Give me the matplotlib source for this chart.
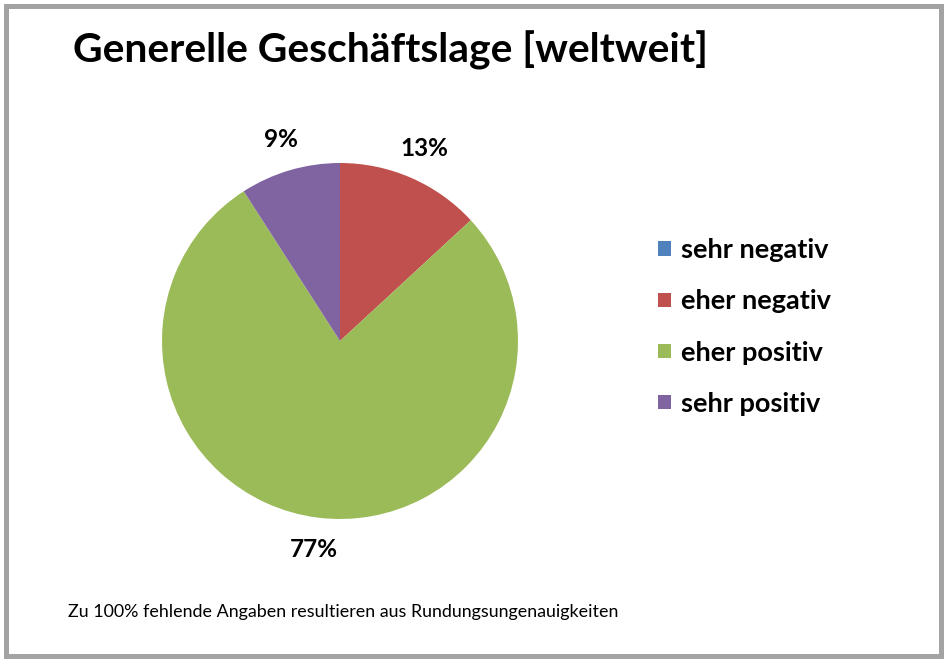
import matplotlib.pyplot as plt
from matplotlib.patches import Rectangle, Patch

# data
categories = ['sehr negativ', 'eher negativ', 'eher positiv', 'sehr positiv']
shares = [0, 13, 77, 9]
colors = ['#4F81BD', '#C0504D', '#9BBB59', '#8064A2']

title = 'Generelle Geschäftslage [weltweit]'
note = 'Zu 100% fehlende Angaben resultieren aus Rundungsungenauigkeiten'

W, H = 947, 662
fig = plt.figure(figsize=(W / 100, H / 100), dpi=100)
fig.patch.set_facecolor('white')

# grey frame around the chart
fig.add_artist(Rectangle((5.5 / W, 6 / H), 935 / W, 650 / H, transform=fig.transFigure,
                         fill=False, edgecolor='#a3a3a3', linewidth=3.6))

fig.text(73 / W, 1 - 62 / H, title, fontsize=29.4, fontweight='bold',
         family='Lato', ha='left', va='baseline', color='black')

fig.text(68 / W, 1 - 617 / H, note, fontsize=12.9, family='Lato',
         ha='left', va='baseline', color='black')

# pie, centre about (340, 341) px, radius about 178 px
ax = fig.add_axes([162 / W, 1 - 519 / H, 356 / W, 356 / H])
total = sum(shares)


def fmt(pct):
    v = round(pct * total / 100)
    return '' if v == 0 else '%d%%' % v


wedges, texts, autotexts = ax.pie(shares, colors=colors, startangle=90, counterclock=False,
                                  autopct=fmt, pctdistance=1.18,
                                  wedgeprops=dict(linewidth=0),
                                  textprops=dict(fontsize=17.5, fontweight='bold', family='Lato'))
ax.set_xlim(-1, 1)
ax.set_ylim(-1, 1)
ax.set_aspect('equal')

handles = [Patch(facecolor=c, edgecolor='none') for c in colors]
leg = fig.legend(handles, categories, loc='upper left', bbox_to_anchor=(634 / W, 1 - 214 / H),
                 frameon=False, handlelength=0.45, handleheight=0.45, handletextpad=0.4,
                 labelspacing=1.0, prop=dict(size=19.5, weight='bold', family='Lato'))

fig.savefig('out.png', dpi=100, facecolor='white')
